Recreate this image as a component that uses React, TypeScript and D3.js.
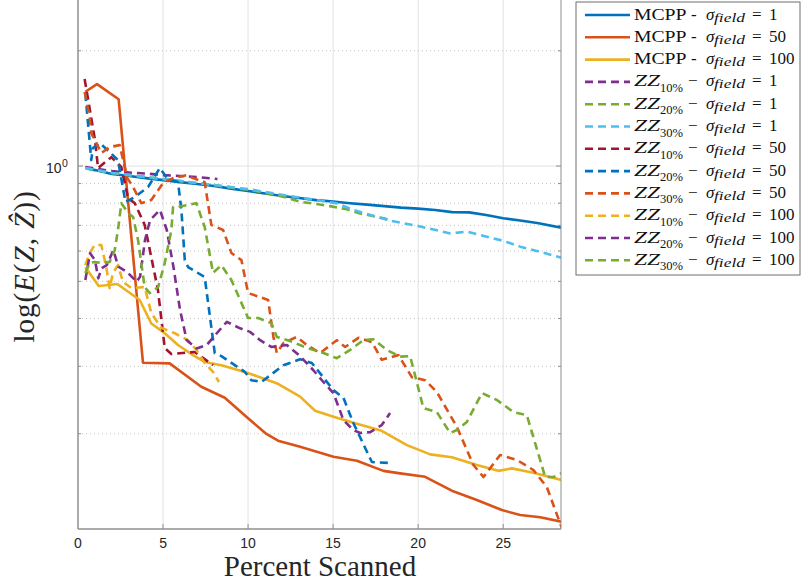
import React from 'react';
import * as d3 from 'd3';

type Pt = [number, number];

// ---------- data ----------
const xTicks = [0, 5, 10, 15, 20, 25];
const yMajorTicks = [1];
const yMinorTicks = [0.2, 0.3, 0.4, 0.5, 0.6, 0.7, 0.8, 0.9, 2];

const mcpp1: Pt[] = [[0.5,0.985],[1,0.976],[2,0.953],[3,0.942],[4,0.930],[5,0.919],[6,0.908],[7,0.898],[8,0.887],[9,0.873],[10,0.861],[11,0.848],[12,0.835],[13,0.825],[14,0.815],[15,0.808],[16,0.800],[17,0.793],[18,0.786],[19,0.779],[20,0.774],[21,0.768],[22,0.758],[23,0.757],[24,0.745],[25,0.731],[26,0.721],[27,0.710],[28.45,0.690]];
const mcpp50: Pt[] = [[0.43,1.563],[1.12,1.637],[2.39,1.494],[3.82,0.3065],[5.39,0.3053],[7.25,0.2653],[8.63,0.2483],[10.0,0.2195],[11.08,0.1997],[11.76,0.1918],[13.06,0.1849],[15.02,0.1742],[16.4,0.170],[17.96,0.160],[18.94,0.1576],[20.41,0.1544],[21.98,0.142],[23.45,0.1343],[24.92,0.1264],[26.0,0.1227],[27.18,0.121],[28.45,0.1178]];
const mcpp100: Pt[] = [[0.43,0.544],[1.22,0.486],[2.31,0.492],[3.63,0.447],[4.31,0.388],[5.1,0.366],[5.88,0.341],[6.76,0.321],[7.45,0.308],[8.43,0.302],[9.81,0.290],[11.76,0.270],[13.06,0.250],[13.94,0.2297],[15.02,0.2216],[16.29,0.2129],[17.86,0.2036],[19.34,0.1868],[20.71,0.1767],[21.98,0.1736],[23.45,0.1657],[24.72,0.160],[25.51,0.1624],[26.78,0.1582],[28.45,0.1514]];
const zz10s1: Pt[] = [[0.43,0.994],[1.2,0.982],[2,0.970],[3,0.962],[4,0.956],[5,0.947],[6,0.942],[7,0.936],[8.2,0.925]];
const zz20s1: Pt[] = [[0.43,0.988],[2,0.959],[4,0.936],[6,0.914],[8,0.892],[10.12,0.866],[11.1,0.849],[12.08,0.832],[13.06,0.807],[14.04,0.796],[14.82,0.786],[15.81,0.771],[16.59,0.752],[17.57,0.737],[18.35,0.723]];
const zz30s1: Pt[] = [[0.43,0.988],[2,0.959],[4,0.936],[6,0.914],[8,0.892],[10.12,0.869],[12.08,0.840],[14.04,0.815],[15.22,0.799],[16.2,0.768],[17.2,0.745],[18.35,0.720],[20.0,0.697],[21.9,0.667],[22.9,0.674],[24.2,0.651],[25,0.638],[26,0.616],[26.8,0.603],[28.45,0.576]];
const zz10s50: Pt[] = [[0.39,1.687],[0.7,1.40],[1.0,1.169],[1.18,0.988],[1.96,1.055],[2.55,0.994],[2.94,0.825],[3.34,0.800],[3.92,0.702],[4.7,0.475],[5.1,0.335],[5.49,0.323],[6.86,0.327],[7.94,0.302]];
const zz20s50: Pt[] = [[0.43,1.551],[0.78,1.037],[0.88,1.114],[1.28,1.148],[1.86,1.088],[2.35,1.037],[2.79,0.806],[3.34,0.830],[4.12,0.882],[4.81,0.988],[5.19,0.936],[5.88,0.908],[6.08,0.768],[6.28,0.568],[6.47,0.545],[7.45,0.513],[8.04,0.325],[8.43,0.319],[9.81,0.290],[10.19,0.276],[10.78,0.273],[12.08,0.302],[13.06,0.313],[13.75,0.306],[15.02,0.260],[15.61,0.248],[16.19,0.2133],[17.28,0.1687],[18.35,0.1677]];
const zz30s50: Pt[] = [[0.39,1.561],[0.69,1.342],[0.78,1.219],[1.08,1.148],[1.37,1.081],[1.86,1.121],[2.45,1.134],[2.9,0.930],[3.24,0.882],[3.72,0.800],[4.31,0.815],[5.0,0.903],[5.59,0.930],[6.37,0.947],[6.76,0.930],[7.45,0.908],[7.84,0.702],[8.53,0.681],[9.02,0.593],[9.61,0.568],[10.0,0.466],[10.69,0.455],[11.18,0.447],[11.49,0.358],[11.69,0.325],[12.08,0.345],[12.86,0.358],[13.45,0.341],[14.24,0.325],[15.22,0.351],[15.71,0.337],[16.49,0.356],[17.28,0.347],[17.86,0.312],[18.84,0.321],[19.63,0.281],[20.41,0.276],[21.1,0.257],[22.28,0.2083],[23.25,0.1657],[23.84,0.1542],[24.82,0.176],[25.81,0.1708],[26.78,0.1608],[27.57,0.1451],[28.45,0.1134]];
const zz10s100: Pt[] = [[0.43,0.551],[0.69,0.593],[0.98,0.622],[1.37,0.622],[1.66,0.545],[1.86,0.480],[2.06,0.526],[2.35,0.551],[2.65,0.498],[3.14,0.480],[3.92,0.483],[4.31,0.413],[4.9,0.378],[5.69,0.366],[6.47,0.351],[6.96,0.331],[7.45,0.306],[7.94,0.290],[8.29,0.273]];
const zz20s100: Pt[] = [[0.43,0.504],[0.71,0.592],[1.0,0.568],[1.19,0.509],[1.39,0.541],[1.69,0.551],[2.08,0.603],[2.37,0.546],[2.86,0.530],[3.45,0.499],[3.65,0.514],[3.94,0.641],[4.24,0.723],[4.82,0.768],[5.22,0.681],[5.61,0.546],[6.0,0.421],[6.39,0.351],[6.98,0.334],[7.57,0.341],[8.16,0.366],[8.75,0.392],[9.53,0.377],[10.12,0.369],[10.71,0.351],[11.37,0.337],[12.28,0.341],[13.06,0.319],[13.84,0.293],[14.43,0.273],[15.02,0.2554],[15.61,0.217],[16.19,0.2045],[16.59,0.2009],[17.18,0.2020],[17.86,0.2107],[18.35,0.2265]];
const zz30s100: Pt[] = [[0.43,0.526],[0.69,0.558],[0.98,0.562],[1.37,0.558],[1.86,0.562],[2.16,0.603],[2.35,0.681],[2.55,0.800],[2.94,0.754],[3.24,0.736],[3.53,0.641],[3.92,0.483],[4.22,0.466],[4.71,0.483],[5.1,0.558],[5.49,0.681],[5.59,0.782],[5.88,0.782],[6.96,0.800],[7.45,0.693],[7.94,0.526],[8.43,0.551],[9.02,0.504],[10.0,0.401],[10.59,0.401],[11.37,0.389],[11.69,0.358],[12.66,0.347],[13.45,0.335],[14.43,0.325],[15.22,0.315],[16.0,0.331],[16.78,0.351],[17.37,0.353],[18.16,0.331],[18.94,0.318],[19.53,0.319],[20.31,0.2334],[21.1,0.2278],[21.88,0.2009],[22.28,0.2045],[22.86,0.2146],[23.75,0.2554],[24.63,0.245],[25.61,0.2278],[26.39,0.2238],[27.47,0.1542],[27.96,0.1542],[28.45,0.158]];

const seriesData: Pt[][] = [mcpp1, mcpp50, mcpp100, zz10s1, zz20s1, zz30s1, zz10s50, zz20s50, zz30s50, zz10s100, zz20s100, zz30s100];
const seriesColors = ['#0072BD','#D95319','#EDB120','#7E2F8E','#77AC30','#4DBEEE','#A2142F','#0072BD','#D95319','#EDB120','#7E2F8E','#77AC30'];
const seriesDashed = [false,false,false,true,true,true,true,true,true,true,true,true];
const legendPrefix = ['MCPP','MCPP','MCPP','ZZ','ZZ','ZZ','ZZ','ZZ','ZZ','ZZ','ZZ','ZZ'];
const legendSub = ['','','','10%','20%','30%','10%','20%','30%','10%','20%','30%'];
const legendSigma = ['1','50','100','1','1','1','50','50','50','100','100','100'];

// ---------- layout ----------
const W = 801, H = 585;
const PL = 78, PR = 561, PT = 0, PB = 529;
const serif = '"Liberation Serif", "Times New Roman", serif';
const sans = '"Liberation Sans", Arial, Helvetica, sans-serif';
const axisColor = '#8f8f8f';
const LW = 2.6;
const DASH = '8,5';

export default function App() {
  const x = d3.scaleLinear().domain([0, 28.4]).range([PL, PR]);
  const y = d3.scaleLog().domain([0.1128, 2.714]).range([PB, PT]);
  const line = d3.line<Pt>().x(d => x(d[0])).y(d => y(d[1]));

  const legX = 576, legY = 2, legW = 224, legH = 273;
  const rowY = (i: number) => 15 + i * 22.3;
  const tx = 634;

  return (
    <div style={{ position: 'absolute', left: 0, top: 0 }}>
      <svg width={W} height={H} style={{ display: 'block', background: '#fff' }}>
        <defs>
          <clipPath id="plotclip">
            <rect x={PL} y={PT} width={PR - PL} height={PB - PT} />
          </clipPath>
        </defs>
        <rect x={0} y={0} width={W} height={H} fill="#fff" />
        {/* grid */}
        {xTicks.filter(t => t > 0).map(t => (
          <line key={'gx' + t} x1={x(t)} x2={x(t)} y1={PT} y2={PB} stroke="#e2e2e2" strokeWidth={1} />
        ))}
        {yMinorTicks.map(t => (
          <line key={'gym' + t} x1={PL} x2={PR} y1={y(t)} y2={y(t)} stroke="#c4c4c4" strokeWidth={1} strokeDasharray="1,3" />
        ))}
        {yMajorTicks.map(t => (
          <line key={'gy' + t} x1={PL} x2={PR} y1={y(t)} y2={y(t)} stroke="#e2e2e2" strokeWidth={1} />
        ))}
        {/* ticks */}
        {xTicks.filter(t => t > 0).map(t => (
          <line key={'tx' + t} x1={x(t)} x2={x(t)} y1={PB} y2={PB - 5} stroke={axisColor} strokeWidth={1} />
        ))}
        {yMinorTicks.map(t => (
          <g key={'tym' + t}>
            <line x1={PL} x2={PL + 3} y1={y(t)} y2={y(t)} stroke={axisColor} strokeWidth={1} />
            <line x1={PR} x2={PR - 3} y1={y(t)} y2={y(t)} stroke={axisColor} strokeWidth={1} />
          </g>
        ))}
        {yMajorTicks.map(t => (
          <g key={'ty' + t}>
            <line x1={PL} x2={PL + 5} y1={y(t)} y2={y(t)} stroke={axisColor} strokeWidth={1} />
            <line x1={PR} x2={PR - 5} y1={y(t)} y2={y(t)} stroke={axisColor} strokeWidth={1} />
          </g>
        ))}
        {/* series */}
        <g clipPath="url(#plotclip)">
          {seriesData.map((d, i) => (
            <path key={'s' + i} d={line(d) || ''} fill="none" stroke={seriesColors[i]} strokeWidth={LW}
              strokeDasharray={seriesDashed[i] ? DASH : undefined} strokeLinejoin="round" />
          ))}
        </g>
        {/* axes box */}
        <line x1={PL} x2={PL} y1={PT} y2={PB} stroke={axisColor} strokeWidth={1.5} />
        <line x1={PL} x2={PR} y1={PB} y2={PB} stroke={axisColor} strokeWidth={1.5} />
        <line x1={PR} x2={PR} y1={PT} y2={PB} stroke={axisColor} strokeWidth={1} />
        {/* tick labels */}
        {xTicks.map(t => (
          <text key={'xl' + t} x={x(t)} y={548} fontFamily={sans} fontSize={14} fill="#262626" textAnchor="middle">{t}</text>
        ))}
        {yMajorTicks.map(t => (
          <g key={'yl' + t}>
            <text x={61.5} y={y(t) + 7} fontFamily={sans} fontSize={14} fill="#262626" textAnchor="end">10</text>
            <text x={62} y={y(t) + 0.5} fontFamily={sans} fontSize={10.5} fill="#262626">{Math.round(Math.log10(t))}</text>
          </g>
        ))}
        {/* axis labels */}
        <text x={320} y={576} fontFamily={serif} fontSize={29} fill="#262626" textAnchor="middle">Percent Scanned</text>
        <text transform={`translate(34, ${(PT + PB) / 2 + 2}) rotate(-90)`} fontFamily={serif} fontSize={29} fill="#262626" textAnchor="middle" letterSpacing={1}>
          <tspan>log(</tspan><tspan fontStyle="italic">E</tspan><tspan>(</tspan><tspan fontStyle="italic">Z</tspan><tspan>, </tspan><tspan fontStyle="italic">{'Z\u0302'}</tspan><tspan>))</tspan>
        </text>
        {/* legend */}
        <rect x={legX} y={legY} width={legW} height={legH} fill="#fff" stroke="#6e6e6e" strokeWidth={1} />
        {seriesData.map((_, i) => {
          const c = rowY(i);
          const isZ = legendPrefix[i] === 'ZZ';
          return (
            <g key={'lg' + i}>
              <line x1={585} x2={630} y1={c} y2={c} stroke={seriesColors[i]} strokeWidth={LW}
                strokeDasharray={seriesDashed[i] ? DASH : undefined} />
              {isZ ? (
                <>
                  <text x={tx} y={c + 4.5} fontFamily={serif} fontSize={17} fontStyle="italic" fill="#111" textLength={26} lengthAdjust="spacingAndGlyphs">{legendPrefix[i]}</text>
                  <text x={660} y={c + 10} fontFamily={serif} fontSize={12} fill="#111" textLength={23} lengthAdjust="spacingAndGlyphs">{legendSub[i]}</text>
                  <text x={688} y={c + 4.5} fontFamily={serif} fontSize={17} fill="#111">{'\u2212'}</text>
                </>
              ) : (
                <>
                  <text x={tx} y={c + 4.5} fontFamily={serif} fontSize={17} fill="#111" textLength={52.5} lengthAdjust="spacingAndGlyphs">{legendPrefix[i]}</text>
                  <text x={691} y={c + 4.5} fontFamily={serif} fontSize={17} fill="#111">-</text>
                </>
              )}
              <text x={706} y={c + 4.5} fontFamily={serif} fontSize={17} fontStyle="italic" fill="#111">{'\u03C3'}</text>
              <text x={714} y={c + 6.5} fontFamily={serif} fontSize={12.5} fontStyle="italic" fill="#111" textLength={31} lengthAdjust="spacingAndGlyphs">field</text>
              <text x={752} y={c + 4.5} fontFamily={serif} fontSize={17} fill="#111">=</text>
              <text x={769} y={c + 4.5} fontFamily={serif} fontSize={17} fill="#111">{legendSigma[i]}</text>
            </g>
          );
        })}
      </svg>
    </div>
  );
}
